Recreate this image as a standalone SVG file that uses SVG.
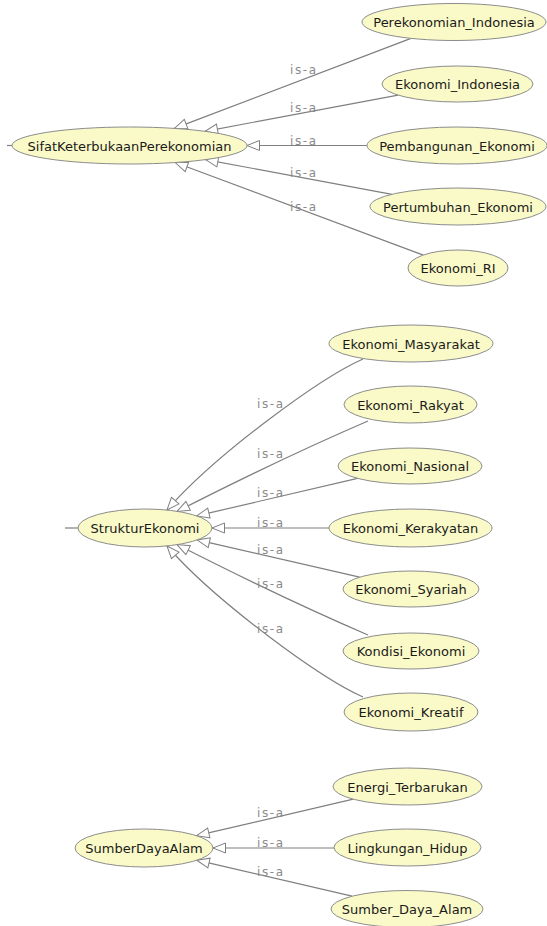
<svg xmlns="http://www.w3.org/2000/svg" width="547" height="926" viewBox="0 0 547 926">
<style>
.node ellipse{fill:#fafac8;stroke:#8c8c8c;stroke-width:1}
.node text{font-family:"DejaVu Sans",sans-serif;font-size:13px;fill:#1a1a1a;text-anchor:middle}
.edge{fill:none;stroke:#7f7f7f;stroke-width:1.2;marker-end:url(#tri)}
.stub{fill:none;stroke:#7f7f7f;stroke-width:1.2}
.lbl{font-family:"DejaVu Sans",sans-serif;font-size:12px;fill:#8a8a8a}
</style>
<defs>
<marker id="tri" markerUnits="userSpaceOnUse" markerWidth="15" markerHeight="13" refX="13.5" refY="6" orient="auto">
<path d="M1,1 L13.5,6 L1,11 Z" fill="#ffffff" stroke="#7f7f7f" stroke-width="1"/>
</marker>
</defs>
<rect width="547" height="926" fill="#ffffff"/>
<g id="connectors">
<line class="stub" x1="7" y1="145.5" x2="12" y2="145.5"/>
<line class="stub" x1="65" y1="528" x2="78" y2="528"/>
<path class="edge" d="M411,38.4 L174.4,128.4"/>
<path class="edge" d="M398.1,95.1 L205.1,131.3"/>
<path class="edge" d="M367,145.5 L247,145.5"/>
<path class="edge" d="M392,194.3 L205.5,159.6"/>
<path class="edge" d="M423.3,255.1 L175.2,162.5"/>
<path class="edge" d="M363,359 C320,378 215,455 167,510"/>
<path class="edge" d="M368,421 Q282,458 177,511.5"/>
<path class="edge" d="M357.5,478.3 L196.7,515.9"/>
<path class="edge" d="M329,528 L212,528"/>
<path class="edge" d="M359.6,577.2 L197.1,539.9"/>
<path class="edge" d="M368,635 Q282,598 177,544.5"/>
<path class="edge" d="M363,697 C320,678 215,601 167,546"/>
<path class="edge" d="M353.2,799.2 L196.6,835.7"/>
<path class="edge" d="M334,848 L213,848"/>
<path class="edge" d="M352,896.2 L196.8,860.2"/>
<text class="lbl" x="290" y="74" textLength="26" lengthAdjust="spacing">is-a</text>
<text class="lbl" x="290" y="112" textLength="26" lengthAdjust="spacing">is-a</text>
<text class="lbl" x="290" y="145" textLength="26" lengthAdjust="spacing">is-a</text>
<text class="lbl" x="290" y="177" textLength="26" lengthAdjust="spacing">is-a</text>
<text class="lbl" x="290" y="211" textLength="26" lengthAdjust="spacing">is-a</text>
<text class="lbl" x="257" y="408" textLength="26" lengthAdjust="spacing">is-a</text>
<text class="lbl" x="257" y="458" textLength="26" lengthAdjust="spacing">is-a</text>
<text class="lbl" x="257" y="497" textLength="26" lengthAdjust="spacing">is-a</text>
<text class="lbl" x="257" y="527" textLength="26" lengthAdjust="spacing">is-a</text>
<text class="lbl" x="257" y="554" textLength="26" lengthAdjust="spacing">is-a</text>
<text class="lbl" x="257" y="588" textLength="26" lengthAdjust="spacing">is-a</text>
<text class="lbl" x="257" y="633" textLength="26" lengthAdjust="spacing">is-a</text>
<text class="lbl" x="257" y="817" textLength="26" lengthAdjust="spacing">is-a</text>
<text class="lbl" x="257" y="847" textLength="26" lengthAdjust="spacing">is-a</text>
<text class="lbl" x="257" y="876" textLength="26" lengthAdjust="spacing">is-a</text>
</g>
<g id="SifatKeterbukaanPerekonomian" class="node"><ellipse cx="129.5" cy="145.5" rx="117.5" ry="18.5"/><text x="129.5" y="150.5">SifatKeterbukaanPerekonomian</text></g>
<g id="Perekonomian_Indonesia" class="node"><ellipse cx="454" cy="22" rx="92" ry="18.5"/><text x="454" y="27">Perekonomian_Indonesia</text></g>
<g id="Ekonomi_Indonesia" class="node"><ellipse cx="457.5" cy="84" rx="75.5" ry="18"/><text x="457.5" y="89">Ekonomi_Indonesia</text></g>
<g id="Pembangunan_Ekonomi" class="node"><ellipse cx="457" cy="145.5" rx="90" ry="18.5"/><text x="457" y="150.5">Pembangunan_Ekonomi</text></g>
<g id="Pertumbuhan_Ekonomi" class="node"><ellipse cx="458" cy="206.5" rx="88" ry="18.5"/><text x="458" y="211.5">Pertumbuhan_Ekonomi</text></g>
<g id="Ekonomi_RI" class="node"><ellipse cx="458" cy="268" rx="50" ry="18"/><text x="458" y="273">Ekonomi_RI</text></g>
<g id="StrukturEkonomi" class="node"><ellipse cx="145" cy="528" rx="67" ry="19"/><text x="145" y="533">StrukturEkonomi</text></g>
<g id="Ekonomi_Masyarakat" class="node"><ellipse cx="411" cy="343.5" rx="82" ry="18.5"/><text x="411" y="348.5">Ekonomi_Masyarakat</text></g>
<g id="Ekonomi_Rakyat" class="node"><ellipse cx="410.5" cy="404.5" rx="66.5" ry="18.5"/><text x="410.5" y="409.5">Ekonomi_Rakyat</text></g>
<g id="Ekonomi_Nasional" class="node"><ellipse cx="410" cy="466" rx="72" ry="18"/><text x="410" y="471">Ekonomi_Nasional</text></g>
<g id="Ekonomi_Kerakyatan" class="node"><ellipse cx="410.5" cy="528" rx="81.5" ry="19"/><text x="410.5" y="533">Ekonomi_Kerakyatan</text></g>
<g id="Ekonomi_Syariah" class="node"><ellipse cx="411" cy="589" rx="68" ry="18"/><text x="411" y="594">Ekonomi_Syariah</text></g>
<g id="Kondisi_Ekonomi" class="node"><ellipse cx="411" cy="651" rx="68" ry="18"/><text x="411" y="656">Kondisi_Ekonomi</text></g>
<g id="Ekonomi_Kreatif" class="node"><ellipse cx="411" cy="712" rx="67" ry="19"/><text x="411" y="717">Ekonomi_Kreatif</text></g>
<g id="SumberDayaAlam" class="node"><ellipse cx="144" cy="848" rx="69" ry="19"/><text x="144" y="853">SumberDayaAlam</text></g>
<g id="Energi_Terbarukan" class="node"><ellipse cx="407.5" cy="786.5" rx="74.5" ry="18.5"/><text x="407.5" y="791.5">Energi_Terbarukan</text></g>
<g id="Lingkungan_Hidup" class="node"><ellipse cx="407.5" cy="847.5" rx="73.5" ry="18.5"/><text x="407.5" y="852.5">Lingkungan_Hidup</text></g>
<g id="Sumber_Daya_Alam" class="node"><ellipse cx="407" cy="909" rx="76" ry="18.5"/><text x="407" y="914">Sumber_Daya_Alam</text></g>
</svg>
